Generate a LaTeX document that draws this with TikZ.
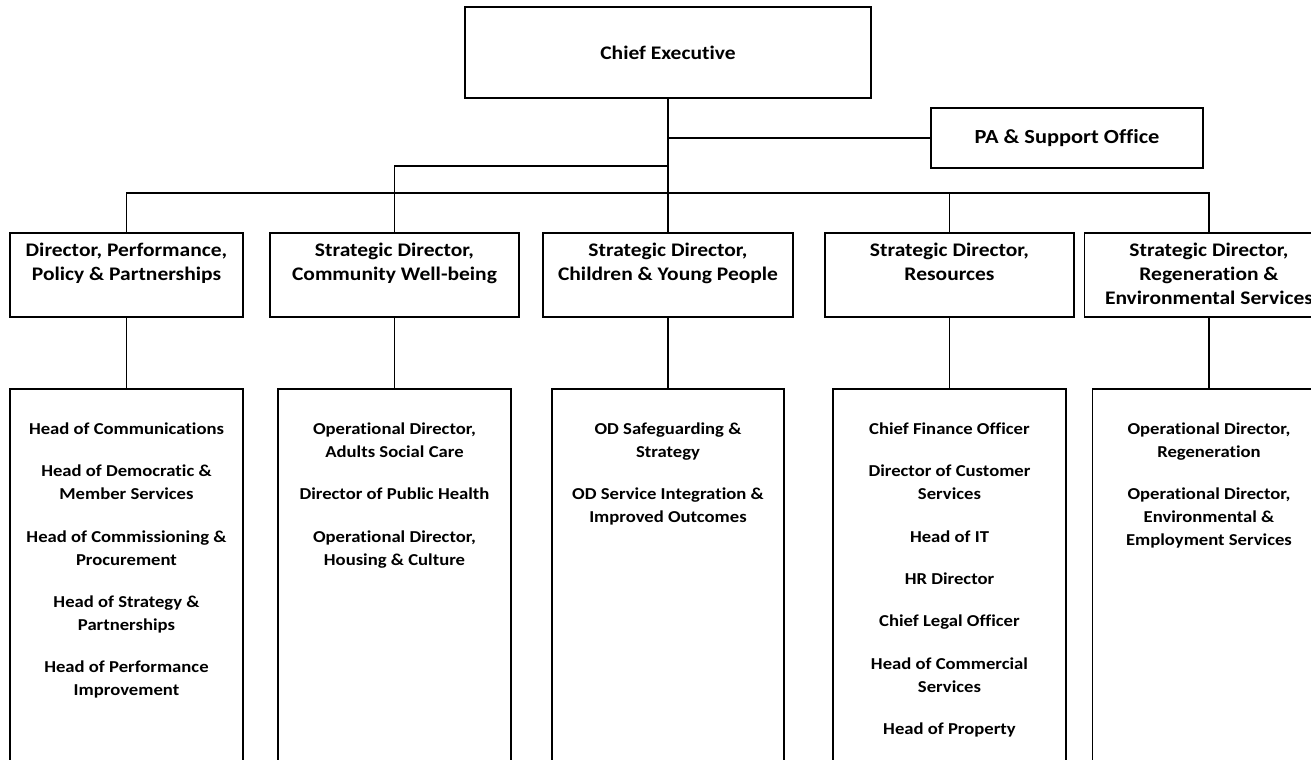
\documentclass[tikz,border=0pt]{standalone}
\usepackage{fontspec}
\setmainfont{Carlito}[FakeStretch=1.12,Ligatures=NoCommon]
\newcommand{\orgfont}{\fontsize{12.5pt}{17.25pt}\selectfont\bfseries}
\newcommand{\dirfont}{\fontsize{14.4pt}{18pt}\selectfont\bfseries}
\newcommand{\pafont}{\fontsize{15pt}{18pt}\selectfont\bfseries}
\newcommand{\gap}{\\[14.45pt]}
\begin{document}
\begin{tikzpicture}[x=0.75pt,y=-0.75pt,
  box/.style={draw, line width=1pt, inner sep=0pt, outer sep=0pt, fill=white},
  lbl/.style={inner sep=0pt, outer sep=0pt, align=center, font=\orgfont},
  dlbl/.style={inner sep=0pt, outer sep=0pt, align=center, font=\dirfont, anchor=north},
  link/.style={line width=0.9pt}]
\useasboundingbox (0,0) rectangle (1311,760);
\clip (0,0) rectangle (1311,760);

% top level
\node[box, minimum width=304.5pt, minimum height=68.25pt] (ce) at (668,52.5) {};
\node[lbl, font=\dirfont] (cet) at (ce.center) {Chief Executive};
\node[box, minimum width=204pt, minimum height=45pt] (pa) at (1067,138) {};
\node[lbl, font=\pafont] (pat) at (pa.center) {PA \& Support Office};

% directors
\node[box, minimum width=174.75pt, minimum height=63pt] (d1) at (126.5,275) {};
\node[box, minimum width=186.75pt, minimum height=63pt] (d2) at (394.5,275) {};
\node[box, minimum width=187.5pt,  minimum height=63pt] (d3) at (668,275) {};
\node[box, minimum width=186.75pt, minimum height=63pt] (d4) at (949.5,275) {};
\node[box, minimum width=186.75pt, minimum height=63pt] (d5) at (1209,275) {};
\node[dlbl] (d1t) at (126.5,243.5) {Director, Performance,\\Policy \& Partnerships};
\node[dlbl] (d2t) at (394.5,243.5) {Strategic Director,\\Community Well-being};
\node[dlbl] (d3t) at (668,243.5) {Strategic Director,\\Children \& Young People};
\node[dlbl] (d4t) at (949.5,243.5) {Strategic Director,\\Resources};
\node[dlbl] (d5t) at (1209,243.5) {Strategic Director,\\Regeneration \&\\Environmental Services};

% service areas
\node[box, minimum width=174.75pt, minimum height=293.25pt] (l1) at (126.5,584.5) {};
\node[box, minimum width=174.75pt, minimum height=293.25pt] (l2) at (394.5,584.5) {};
\node[box, minimum width=174pt,    minimum height=293.25pt] (l3) at (668,584.5) {};
\node[box, minimum width=174.75pt, minimum height=293.25pt] (l4) at (949.5,584.5) {};
\node[box, minimum width=174.75pt, minimum height=293.25pt] (l5) at (1209,584.5) {};
\node[lbl, anchor=north] (l1t) at (126.5,423) {Head of Communications\gap
  Head of Democratic \&\\Member Services\gap
  Head of Commissioning \&\\Procurement\gap
  Head of Strategy \&\\Partnerships\gap
  Head of Performance\\Improvement};
\node[lbl, anchor=north] (l2t) at (394.5,423) {Operational Director,\\Adults Social Care\gap
  Director of Public Health\gap
  Operational Director,\\Housing \& Culture};
\node[lbl, anchor=north] (l3t) at (668,423) {OD Safeguarding \&\\Strategy\gap
  OD Service Integration \&\\Improved Outcomes};
\node[lbl, anchor=north] (l4t) at (949.5,423) {Chief Finance Officer\gap
  Director of Customer\\Services\gap
  Head of IT\gap
  HR Director\gap
  Chief Legal Officer\gap
  Head of Commercial\\Services\gap
  Head of Property};
\node[lbl, anchor=north] (l5t) at (1209,423) {Operational Director,\\Regeneration\gap
  Operational Director,\\Environmental \&\\Employment Services};

% connectors
\coordinate (jn) at (668,193);
\coordinate (pj) at (668,138);
\coordinate (sj) at (668,166);
\draw[link] (ce.south) -- (jn);
\draw[link] (pj) -- (pa.west);
\draw[link] (sj) -| (d2.north);
\draw[link] (d1.north) |- (jn) -| (d5.north);
\draw[link] (jn) -- (d3.north);
\draw[link] (d4.north |- jn) -- (d4.north);
\foreach \i in {1,...,5} \draw[link] (d\i.south) -- (l\i.north);
\end{tikzpicture}
\end{document}
